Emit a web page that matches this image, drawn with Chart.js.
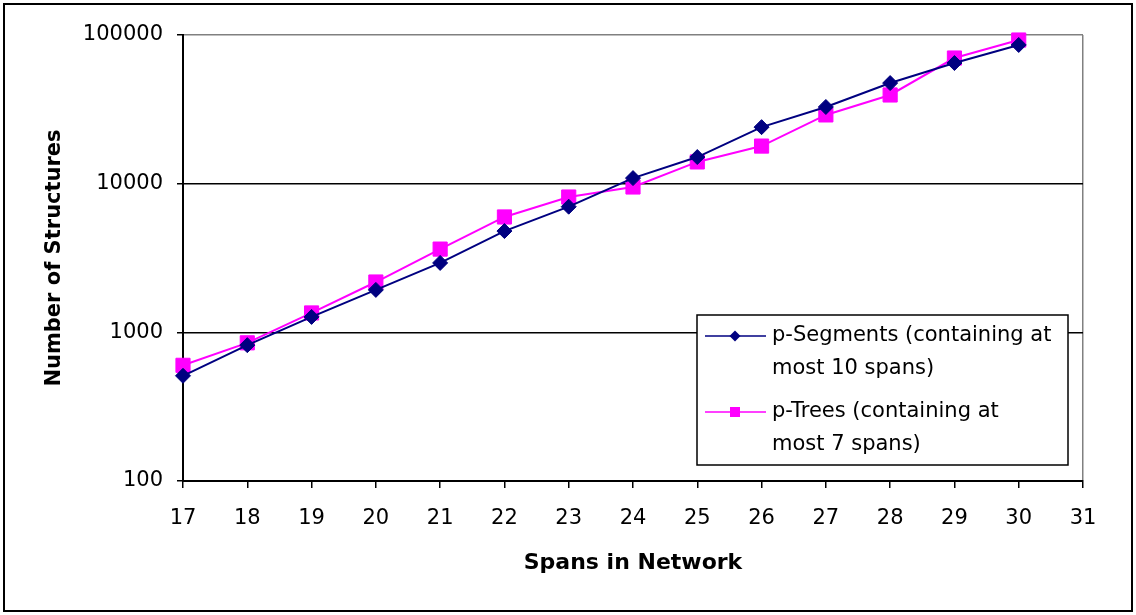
<!DOCTYPE html>
<html>
<head>
<meta charset="utf-8">
<script src="https://cdn.jsdelivr.net/npm/chart.js@4.4.0/dist/chart.umd.min.js"></script>
<style>
html, body { margin: 0; padding: 0; background: #fff; }
#wrap { width: 1136px; height: 615px; }
</style>
</head>
<body>
<div id="wrap"><canvas id="chart" width="1136" height="615"></canvas></div>
<script>
var spans = [17, 18, 19, 20, 21, 22, 23, 24, 25, 26, 27, 28, 29, 30];
var segments = [510, 820, 1270, 1930, 2930, 4800, 7000, 10900, 15100, 24000, 32800, 47500, 64800, 85700];
var trees = [600, 850, 1350, 2180, 3630, 5970, 8130, 9500, 14000, 17900, 29000, 39500, 70000, 92500];
var yTicks = [100, 1000, 10000, 100000];
var xMin = 17, xMax = 31;
var segLabel = ["p-Segments (containing at", "most 10 spans)"];
var treeLabel = ["p-Trees (containing at", "most 7 spans)"];

function pairs(xs, ys) {
    return xs.map(function (x, i) { return { x: x, y: ys[i] }; });
}

// frame round the picture and the boxed legend inside the plot
var frame = {
    id: 'frame',
    beforeDraw: function (chart) {
        var ctx = chart.ctx;
        ctx.save();
        ctx.fillStyle = '#fff';
        ctx.fillRect(0, 0, chart.width, chart.height);
        ctx.restore();
    },
    afterDraw: function (chart) {
        var ctx = chart.ctx;
        var a = chart.chartArea;
        ctx.save();
        ctx.strokeStyle = '#000';
        ctx.lineWidth = 2;
        ctx.strokeRect(4, 4, 1128, 607);

        var bw = 371, bh = 150;
        var bx = a.right - 15 - bw, by = a.bottom - 16 - bh;
        ctx.fillStyle = '#fff';
        ctx.fillRect(bx, by, bw, bh);
        ctx.lineWidth = 1.5;
        ctx.strokeStyle = '#000';
        ctx.strokeRect(bx, by, bw, bh);

        chart.data.datasets.forEach(function (ds, i) {
            var y0 = by + 21 + i * 76;
            ctx.strokeStyle = ds.borderColor;
            ctx.lineWidth = 1.5;
            ctx.beginPath();
            ctx.moveTo(bx + 8, y0);
            ctx.lineTo(bx + 69, y0);
            ctx.stroke();
            ctx.fillStyle = ds.backgroundColor;
            var cx = bx + 38;
            ctx.beginPath();
            if (ds.pointStyle === 'rectRot') {
                ctx.moveTo(cx - 5.5, y0);
                ctx.lineTo(cx, y0 - 5.5);
                ctx.lineTo(cx + 5.5, y0);
                ctx.lineTo(cx, y0 + 5.5);
                ctx.closePath();
            } else {
                ctx.rect(cx - 5, y0 - 5, 10, 10);
            }
            ctx.fill();
            ctx.fillStyle = '#000';
            ctx.font = '21px "DejaVu Sans"';
            ctx.textBaseline = 'middle';
            ctx.textAlign = 'left';
            ds.legendLines.forEach(function (t, j) {
                ctx.fillText(t, bx + 75, y0 + j * 33);
            });
        });
        ctx.restore();
    }
};

new Chart(document.getElementById("chart"), {
    type: 'line',
    data: {
        datasets: [
            {
                label: segLabel.join(' '),
                legendLines: segLabel,
                data: pairs(spans, segments),
                borderColor: '#000080',
                backgroundColor: '#000080',
                borderWidth: 2,
                pointStyle: 'rectRot',
                pointRadius: 7.5,
                pointBorderWidth: 1,
                tension: 0,
                clip: false
            },
            {
                label: treeLabel.join(' '),
                legendLines: treeLabel,
                data: pairs(spans, trees),
                borderColor: '#FF00FF',
                backgroundColor: '#FF00FF',
                borderWidth: 2,
                pointStyle: 'rect',
                pointRadius: 10,
                pointBorderWidth: 1,
                tension: 0,
                clip: false
            }
        ]
    },
    options: {
        responsive: false,
        animation: false,
        layout: { padding: { top: 35, right: 53, left: 0, bottom: 0 } },
        plugins: {
            legend: { display: false },
            tooltip: { enabled: false }
        },
        scales: {
            x: {
                type: 'linear',
                min: xMin,
                max: xMax,
                afterFit: function (scale) { scale.height = 134; },
                ticks: {
                    stepSize: 1,
                    autoSkip: false,
                    maxRotation: 0,
                    padding: 18,
                    color: '#000',
                    font: { family: 'DejaVu Sans', size: 21 },
                    callback: function (v) { return String(v); }
                },
                grid: {
                    color: function (c) {
                        return c.tick && c.tick.value === xMax ? '#808080' : 'rgba(0,0,0,0)';
                    },
                    lineWidth: 1.5,
                    tickColor: '#000',
                    tickLength: 7,
                    tickWidth: 1.5
                },
                border: { display: true, color: '#000', width: 2 },
                title: {
                    display: true,
                    text: 'Spans in Network',
                    color: '#000',
                    padding: { top: 0, bottom: 39 },
                    font: { family: 'DejaVu Sans', size: 22, weight: 'bold', lineHeight: 1.2 }
                }
            },
            y: {
                type: 'logarithmic',
                min: 100,
                max: 100000,
                afterFit: function (scale) { scale.width = 183; },
                afterBuildTicks: function (scale) {
                    scale.ticks = yTicks.map(function (v) { return { value: v }; });
                },
                ticks: {
                    autoSkip: false,
                    padding: 14,
                    color: '#000',
                    font: { family: 'DejaVu Sans', size: 21 },
                    callback: function (v) { return String(v); }
                },
                grid: {
                    color: function (c) {
                        return c.tick && c.tick.value === 100000 ? '#808080' : '#000';
                    },
                    lineWidth: 1.5,
                    tickColor: '#000',
                    tickLength: 6,
                    tickWidth: 1.5
                },
                border: { display: true, color: '#000', width: 2 },
                title: {
                    display: true,
                    text: 'Number of Structures',
                    color: '#000',
                    padding: { top: 42, bottom: 0 },
                    font: { family: 'DejaVu Sans', size: 21, weight: 'bold', lineHeight: 1.2 }
                }
            }
        }
    },
    plugins: [frame]
});
</script>
</body>
</html>
